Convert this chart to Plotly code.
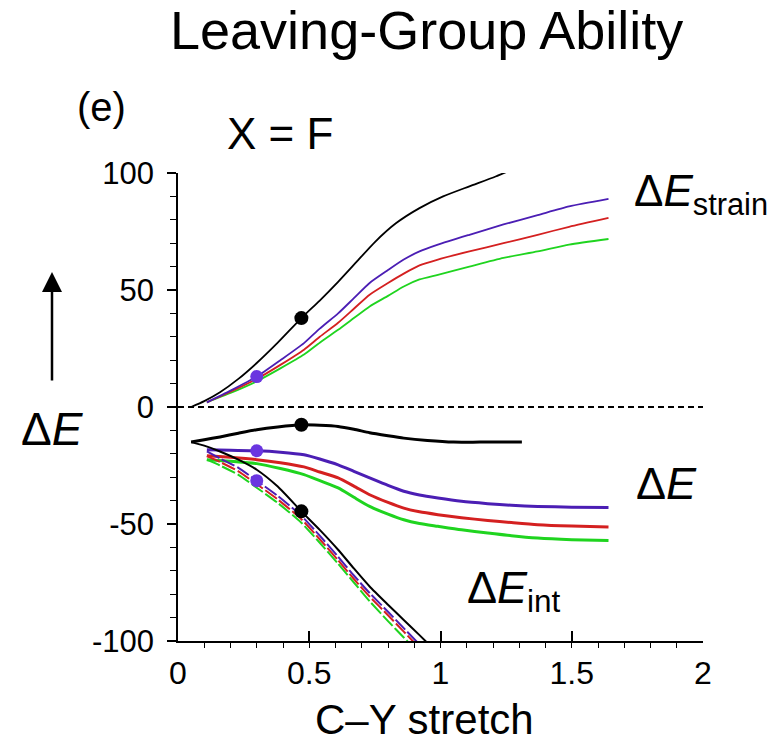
import plotly.graph_objects as go

# ---------------- data ----------------
# Strain curves
strain_black_x = [0.05, 0.10, 0.16, 0.23, 0.30, 0.38, 0.47, 0.54, 0.61, 0.68, 0.75, 0.83, 0.92, 1.01, 1.11, 1.21, 1.30]
strain_black_y = [0, 2.5, 6.3, 12, 18.8, 27.5, 38, 45.5, 53.5, 62, 70.5, 78.5, 85, 90, 94.3, 98.5, 102.8]

strain_col_x = [0.11, 0.20, 0.30, 0.39, 0.48, 0.54, 0.61, 0.67, 0.73, 0.80, 0.86, 0.92, 0.99, 1.11, 1.24, 1.37, 1.49, 1.64]
strain_purple_y = [2, 7, 13, 20, 27.3, 33.5, 40, 46.5, 53, 58.5, 63, 66.5, 69.4, 73.6, 78, 82, 85.7, 88.9]
strain_red_y = [2, 6.5, 12, 18, 24.5, 30, 36, 42, 48, 53, 57, 60.5, 63, 66.5, 70, 73.6, 77, 80.8]
strain_green_y = [2, 6, 11, 16.5, 22.4, 27.5, 33, 38, 43, 47.5, 51.5, 54.5, 56.5, 60, 63.7, 66.5, 69.4, 71.8]

# Total energy curves
de_black_x = [0.05, 0.10, 0.16, 0.23, 0.30, 0.38, 0.47, 0.54, 0.61, 0.67, 0.73, 0.80, 0.86, 0.95, 1.05, 1.15, 1.31]
de_black_y = [-15, -14, -12.8, -11.2, -9.7, -8.5, -7.6, -7.8, -8.3, -9.5, -11, -12.3, -13.3, -14.3, -15, -15, -15]

de_col_x = [0.11, 0.20, 0.30, 0.39, 0.48, 0.54, 0.61, 0.67, 0.73, 0.80, 0.86, 0.92, 0.99, 1.08, 1.18, 1.27, 1.37, 1.50, 1.64]
de_purple_y = [-18.3, -18.5, -18.7, -19.3, -20.4, -22.2, -24.7, -27.5, -30.3, -33.5, -36, -37.6, -38.9, -40.3, -41.3, -42, -42.5, -42.8, -42.9]
de_red_y = [-20.8, -21.5, -22.5, -23.8, -25.6, -27.8, -30.3, -33.8, -37.5, -40.8, -43.2, -44.8, -46, -47.3, -48.5, -49.4, -50.3, -50.9, -51.3]
de_green_y = [-22.5, -23.2, -24.2, -26.3, -28.9, -31.5, -34.6, -38.6, -42.5, -45.8, -48.2, -49.8, -51, -52.5, -53.8, -55, -56, -56.7, -57.1]

# Interaction energy curves
int_black_x = [0.05, 0.10, 0.16, 0.23, 0.30, 0.38, 0.47, 0.54, 0.61, 0.67, 0.73, 0.80, 0.86, 0.92, 0.97]
int_black_y = [-15, -16.5, -19, -22.5, -26.8, -34, -44.6, -52.5, -61, -69, -76.7, -84.5, -91, -97.5, -103]

int_col_x = [0.11, 0.16, 0.23, 0.30, 0.38, 0.47, 0.54, 0.61, 0.67, 0.73, 0.80, 0.86, 0.92]
int_purple_y = [-19, -22, -26, -31.5, -38, -46.5, -55, -64, -72, -79.5, -87.5, -94.5, -101.5]
int_red_y = [-21, -23.5, -27.5, -33, -39.5, -48, -56.5, -65.5, -73.5, -81, -89, -96, -103]
int_green_y = [-22.5, -25, -29, -34.5, -41, -49.5, -58, -67, -75, -83, -91.5, -98.5, -105.5]

# Transition-state markers
ts_black_x = [0.47, 0.47, 0.47]
ts_black_y = [38, -7.6, -44.6]
ts_purple_x = [0.30, 0.30, 0.30]
ts_purple_y = [13, -18.7, -31.5]

zero_x = [0, 2]
zero_y = [0, 0]

x_tickvals = [0, 0.5, 1, 1.5, 2]
x_ticktext = ["0", "0.5", "1", "1.5", "2"]
y_tickvals = [-100, -50, 0, 50, 100]
y_ticktext = ["-100", "-50", "0", "50", "100"]

# ---------------- style ----------------
BLACK = "#000000"
PURPLE = "#4B1EB4"
RED = "#D42020"
GREEN = "#1FD41F"
MARK_PURPLE = "#6A35E0"
FONT = "Liberation Sans, Arial, Helvetica, sans-serif"

fig = go.Figure()

fig.add_trace(go.Scatter(x=zero_x, y=zero_y, mode="lines",
                         line=dict(color=BLACK, width=2, dash="6px,4px")))

def line(x, y, color, width, dash="solid"):
    fig.add_trace(go.Scatter(x=x, y=y, mode="lines",
                             line=dict(color=color, width=width, dash=dash, shape="spline", smoothing=0.6)))

# strain
line(strain_col_x, strain_green_y, GREEN, 1.8)
line(strain_col_x, strain_red_y, RED, 1.8)
line(strain_col_x, strain_purple_y, PURPLE, 1.8)
line(strain_black_x, strain_black_y, BLACK, 1.8)
# total
line(de_col_x, de_green_y, GREEN, 3)
line(de_col_x, de_red_y, RED, 3)
line(de_col_x, de_purple_y, PURPLE, 3)
line(de_black_x, de_black_y, BLACK, 3)
# interaction
line(int_black_x, int_black_y, BLACK, 2)
line(int_col_x, int_green_y, GREEN, 2, "14px,3px")
line(int_col_x, int_red_y, RED, 2, "14px,3px")
line(int_col_x, int_purple_y, PURPLE, 2, "14px,3px")

fig.add_trace(go.Scatter(x=ts_black_x, y=ts_black_y, mode="markers",
                         marker=dict(color=BLACK, size=14)))
fig.add_trace(go.Scatter(x=ts_purple_x, y=ts_purple_y, mode="markers",
                         marker=dict(color=MARK_PURPLE, size=13)))

# page body adds an 8px margin; compensate so the plot lands where the reference has it
OFF = 8
fig.update_layout(
    width=782 - OFF, height=739 - OFF,
    margin=dict(l=178 - OFF, r=79, t=173 - OFF, b=98),
    paper_bgcolor="white", plot_bgcolor="white",
    showlegend=False,
    font=dict(family=FONT, color="black"),
)

fig.update_xaxes(
    range=[0, 2], showgrid=False, zeroline=False,
    showline=True, linecolor="black", linewidth=1.5,
    tickmode="array", tickvals=x_tickvals, ticktext=x_ticktext,
    ticks="inside", ticklen=10, tickwidth=1.5, tickcolor="black",
    minor=dict(ticks="outside", dtick=0.1, ticklen=5, tickwidth=1.2, tickcolor="black"),
    tickfont=dict(size=32, family=FONT),
    ticklabelstandoff=3,
)
fig.update_yaxes(
    range=[-100, 100], showgrid=False, zeroline=False,
    showline=True, linecolor="black", linewidth=1.5,
    tickmode="array", tickvals=y_tickvals, ticktext=y_ticktext,
    ticks="outside", ticklen=9, tickwidth=1.5, tickcolor="black",
    minor=dict(ticks="outside", dtick=10, ticklen=6, tickwidth=1.2, tickcolor="black"),
    tickfont=dict(size=31, family=FONT),
    ticklabelstandoff=7,
)

def txt(text, x, y, size, xanchor="center", yanchor="middle"):
    fig.add_annotation(text=text, x=x, y=y, xref="paper", yref="paper",
                       xanchor=xanchor, yanchor=yanchor, showarrow=False,
                       font=dict(size=size, family=FONT, color="black"))

# reference-pixel -> paper coordinates (plot area spans x 178..703, y 173..641 on the page)
W, H, L, B = 525.0, 468.0, 178.0, 641.0
def px(xp): return (xp - L) / W
def py(yp): return (B - yp) / H

txt("Leaving-Group Ability", px(426), py(30), 54)
txt("(e)", px(101), py(107), 40)
txt("X = F", px(280), py(133), 44)
txt("C\u2013Y stretch", px(424), py(719), 42)
txt("\u0394<i>E</i><sub>strain</sub>", px(632), py(194), 44, xanchor="left")
txt("\u0394<i>E</i>", px(666), py(483), 45)
txt("\u0394<i>E</i><sub>int</sub>", px(465), py(590), 45, xanchor="left")
txt("\u0394<i>E</i>", px(52), py(429), 46)

fig.add_annotation(x=px(52), y=py(272), xref="paper", yref="paper",
                   ax=0, ay=110, axref="pixel", ayref="pixel",
                   showarrow=True, arrowhead=2, arrowsize=1.6, arrowwidth=2.5,
                   arrowcolor="black", text="")

fig.write_html("out.html")
